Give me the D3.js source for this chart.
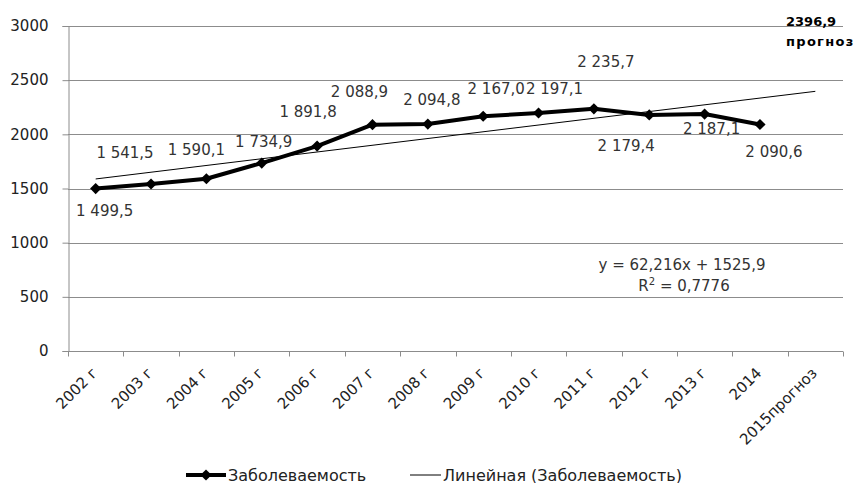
<!DOCTYPE html>
<meta charset="utf-8">
<body style="margin:0;background:#fff">
<style>
text { font-family: "DejaVu Sans", sans-serif; }
.grid line { stroke: #8c8c8c; stroke-width: 1px; }
.axis path, .axis line { stroke: #8c8c8c; }
.val { font-size: 15px; fill: #333; }
</style>
<script src="https://d3js.org/d3.v7.min.js"></script>
<script>

var years = ["2002 г", "2003 г", "2004 г", "2005 г", "2006 г", "2007 г", "2008 г",
             "2009 г", "2010 г", "2011 г", "2012 г", "2013 г", "2014", "2015прогноз"];
var morbidity = [1499.5, 1541.5, 1590.1, 1734.9, 1891.8, 2088.9, 2094.8,
                 2167.0, 2197.1, 2235.7, 2179.4, 2187.1, 2090.6];
var valueLabels = ["1 499,5", "1 541,5", "1 590,1", "1 734,9", "1 891,8", "2 088,9", "2 094,8",
                   "2 167,0", "2 197,1", "2 235,7", "2 179,4", "2 187,1", "2 090,6"];
var yTicks = [0, 500, 1000, 1500, 2000, 2500, 3000];
// linear trend as printed on the chart
var trendSlope = 62.216, trendIntercept = 1525.9;
var forecastLabel = ["2396,9", "прогноз"];

// label placement relative to each point (Excel put them by hand)
var labelOffsets = [[9, 22], [-26, -31], [-10, -29], [2, -21], [-9, -34], [-13, -33], [4, -24],
                    [13, -27], [16, -24], [12, -47], [-23, 31], [7, 15], [14, 27]];

var width = 855, height = 483;
var plotL = 68, plotR = 843, plotT = 26, plotB = 351;

var svg = d3.select("body").append("svg")
    .attr("width", width)
    .attr("height", height);

var x = d3.scaleBand().domain(years).range([plotL, plotR]);
var y = d3.scaleLinear().domain([0, 3000]).range([plotB, plotT]);
var cx = function(i) { return x(years[i]) + x.bandwidth() / 2; };

// gridlines
svg.append("g").attr("class", "grid")
  .selectAll("line")
    .data(yTicks.slice(1))
  .enter().append("line")
    .attr("x1", plotL).attr("x2", plotR)
    .attr("y1", function(d) { return Math.round(y(d)) + 0.5; })
    .attr("y2", function(d) { return Math.round(y(d)) + 0.5; });

// y axis
var yAxis = svg.append("g").attr("class", "axis")
    .attr("transform", "translate(" + (plotL + 0.5) + ",0)")
    .call(d3.axisLeft(y).tickValues(yTicks).tickFormat(d3.format("d")).tickSize(6).tickPadding(14));
yAxis.selectAll("text").style("font-size", "15px").attr("fill", "#222");

// x axis, ticks on category boundaries
var xAxis = svg.append("g").attr("class", "axis")
    .attr("transform", "translate(0," + (plotB + 0.5) + ")");
xAxis.append("line").attr("x1", plotL).attr("x2", plotR);
xAxis.selectAll(".tk")
    .data(years.map(function(d) { return x(d); }).concat([plotR]))
  .enter().append("line")
    .attr("x1", function(d) { return Math.round(d) + 0.5; })
    .attr("x2", function(d) { return Math.round(d) + 0.5; })
    .attr("y1", 0).attr("y2", 5);
xAxis.selectAll(".lbl")
    .data(years)
  .enter().append("text")
    .attr("transform", function(d, i) { return "translate(" + (cx(i) - 5) + ",15) rotate(-45)"; })
    .attr("text-anchor", "end")
    .attr("dy", "0.71em")
    .style("font-size", "15px")
    .attr("fill", "#222")
    .text(function(d) { return d; });

// trend line
var trend = [1, years.length].map(function(k) {
  return [cx(k - 1), y(trendSlope * k + trendIntercept)];
});
svg.append("path")
    .attr("d", d3.line()(trend))
    .attr("fill", "none")
    .attr("stroke", "#000")
    .attr("stroke-width", 1);

// main series
var pts = morbidity.map(function(v, i) { return [cx(i), y(v)]; });
svg.append("path")
    .attr("d", d3.line()(pts))
    .attr("fill", "none")
    .attr("stroke", "#000")
    .attr("stroke-width", 4)
    .attr("stroke-linejoin", "round");

var diamond = d3.symbol().type(d3.symbolDiamond2).size(80);
svg.selectAll(".pt")
    .data(pts)
  .enter().append("path")
    .attr("d", diamond)
    .attr("transform", function(d) { return "translate(" + d + ")"; })
    .attr("fill", "#000");

// value labels
svg.selectAll(".val")
    .data(valueLabels)
  .enter().append("text")
    .attr("class", "val")
    .attr("x", function(d, i) { return pts[i][0] + labelOffsets[i][0]; })
    .attr("y", function(d, i) { return pts[i][1] + labelOffsets[i][1]; })
    .attr("text-anchor", "middle")
    .attr("dominant-baseline", "central")
    .text(function(d) { return d; });

// forecast note
svg.selectAll(".fc")
    .data(forecastLabel)
  .enter().append("text")
    .attr("x", 786)
    .attr("y", function(d, i) { return 21 + i * 20; })
    .attr("dominant-baseline", "central")
    .style("font-size", "13px")
    .style("font-weight", "bold")
    .style("letter-spacing", function(d, i) { return i ? "1.3px" : "0px"; })
    .attr("fill", "#000")
    .text(function(d) { return d; });

// trend equation
svg.append("text")
    .attr("x", 682).attr("y", 265)
    .attr("text-anchor", "middle").attr("dominant-baseline", "central")
    .style("font-size", "15px").attr("fill", "#333")
    .text("y = 62,216x + 1525,9");
var r2 = svg.append("text")
    .attr("x", 684).attr("y", 286)
    .attr("text-anchor", "middle").attr("dominant-baseline", "central")
    .style("font-size", "15px").attr("fill", "#333");
r2.append("tspan").text("R");
r2.append("tspan").attr("dy", -5).style("font-size", "10px").text("2");
r2.append("tspan").attr("dy", 5).text(" = 0,7776");

// legend
var lg = svg.append("g").attr("transform", "translate(0,475)");
lg.append("line").attr("x1", 186).attr("x2", 226).attr("stroke", "#000").attr("stroke-width", 4);
lg.append("path").attr("d", diamond).attr("transform", "translate(206,0)").attr("fill", "#000");
lg.append("text").attr("x", 228).attr("dominant-baseline", "central")
    .style("font-size", "16px").attr("fill", "#222").text("Заболеваемость");
lg.append("line").attr("x1", 410).attr("x2", 441).attr("stroke", "#000").attr("stroke-width", 1);
lg.append("text").attr("x", 443).attr("dominant-baseline", "central")
    .style("font-size", "16px").attr("fill", "#222").text("Линейная (Заболеваемость)");

</script>
</body>
